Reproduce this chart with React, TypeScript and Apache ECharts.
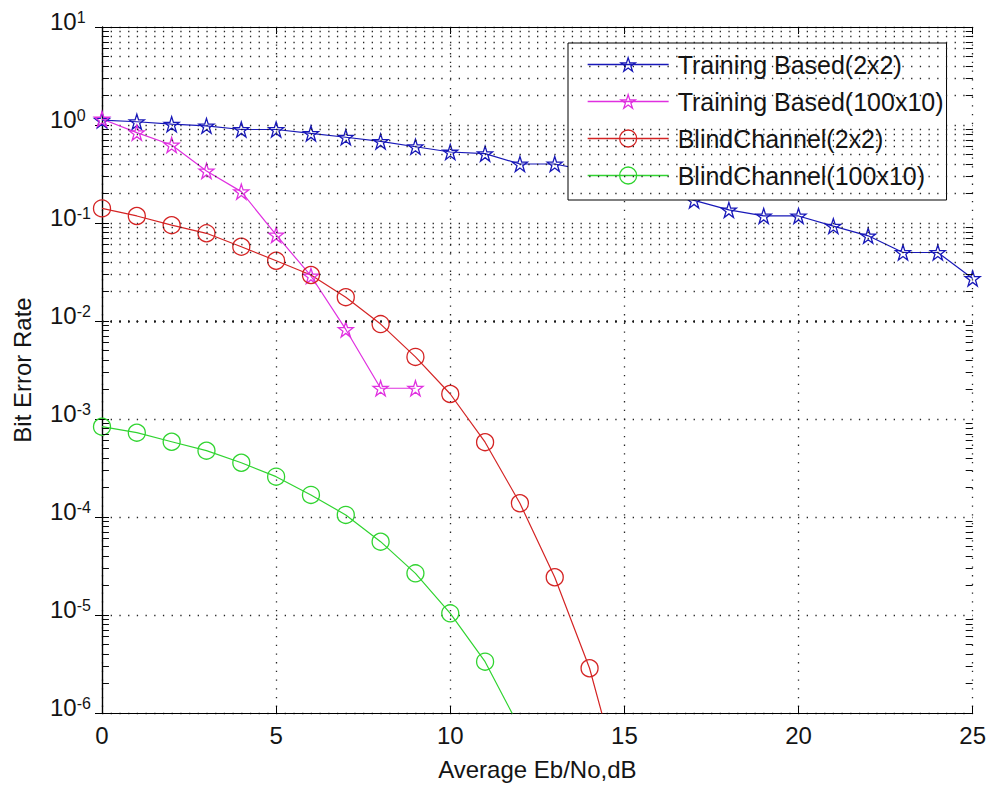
import React, { useEffect, useRef } from "react";
import * as echarts from "echarts";

// ---- data ----
const snrDb = [0, 1, 2, 3, 4, 5, 6, 7, 8, 9, 10, 11, 12, 13, 14, 15, 16, 17, 18, 19, 20, 21, 22, 23, 24, 25];

const trainingBased2x2 = [1.12, 1.08, 1.02, 0.98, 0.9, 0.9, 0.82, 0.75, 0.68, 0.6, 0.53, 0.51, 0.4, 0.4, 0.34, 0.29, 0.23, 0.17, 0.136, 0.118, 0.118, 0.093, 0.074, 0.05, 0.05, 0.0272];
const trainingBased100x10 = [1.15, 0.835, 0.625, 0.34, 0.209, 0.0755, 0.0288, 0.0082, 0.00206, 0.00206];
const blindChannel2x2 = [0.141, 0.118, 0.095, 0.0785, 0.0573, 0.0412, 0.0295, 0.0175, 0.0093, 0.0043, 0.0018, 0.00058, 0.000138, 2.43e-5, 2.86e-6, 1.42e-7];
const blindChannel100x10 = [8.35e-4, 7.25e-4, 5.86e-4, 4.75e-4, 3.58e-4, 2.58e-4, 1.68e-4, 1.05e-4, 5.6e-5, 2.66e-5, 1.04e-5, 3.34e-6, 7e-7];

const seriesNames = ["Training Based(2x2)", "Training Based(100x10)", "BlindChannel(2x2)", "BlindChannel(100x10)"];
const seriesColors = ["#1818b8", "#e030e0", "#d42424", "#30d430"];

const xMin = 0;
const xMax = 25;
const xStep = 5;
const yMin = 1e-6;
const yMax = 10;
const decadeExponents = [-6, -5, -4, -3, -2, -1, 0];
const minorMultipliers = [2, 3, 4, 5, 6, 7, 8, 9];

const FONT = "Liberation Sans, Arial, sans-serif";
const TEXT = "#141414";
const STAR_PTS = [[50, 0], [61.2, 34.5], [97.6, 34.5], [68.2, 55.9], [79.4, 90.5], [50, 69.1], [20.6, 90.5], [31.8, 55.9], [2.4, 34.5], [38.8, 34.5]];
const STAR = "path://M" + STAR_PTS.map((p) => p.join(",")).join(" L") + " Z";
const HOLLOW = "rgba(255,255,255,0)";

// legend icons: horizontal line with the marker in its middle (810 x 170 box)
const LEG_STAR =
  "path://M0,85 L810,85 M" +
  STAR_PTS.map((p) => `${(405 + (p[0] - 50) * 1.5).toFixed(1)},${(85 + (p[1] - 45.25) * 1.5).toFixed(1)}`).join(" L") +
  " Z";
const LEG_CIRCLE = "path://M0,85 L810,85 M490,85 A85,85 0 1,1 320,85 A85,85 0 1,1 490,85 Z";

export default function App() {
  const ref = useRef<HTMLDivElement>(null);

  useEffect(() => {
    if (!ref.current) return;
    const chart = echarts.init(ref.current, undefined, { renderer: "svg" });

    const minorValues: number[] = [];
    decadeExponents.forEach((e) => minorMultipliers.forEach((m) => minorValues.push(m * Math.pow(10, e))));

    const dotted = { color: "#1a1a1a", width: 1.3, type: [1.3, 7.4] as any, opacity: 0.95 };
    const tickLen = 0.2;

    const gridLines: any[] = minorValues.map((v) => ({ yAxis: v, lineStyle: dotted }));
    minorValues.forEach((v) => {
      gridLines.push([{ coord: [xMin, v], lineStyle: { color: "#000", width: 1, type: "solid" } }, { coord: [xMin + tickLen, v] }]);
      gridLines.push([{ coord: [xMax - tickLen, v], lineStyle: { color: "#000", width: 1, type: "solid" } }, { coord: [xMax, v] }]);
    });

    const dataSets = [trainingBased2x2, trainingBased100x10, blindChannel2x2, blindChannel100x10];
    const symbols = [STAR, STAR, "circle", "circle"];
    const legendIcons = [LEG_STAR, LEG_STAR, LEG_CIRCLE, LEG_CIRCLE];
    const sizes = [15, 15, 17, 17];

    const dataSeries = dataSets.map((arr, i) => ({
      name: seriesNames[i],
      type: "line",
      z: 3,
      data: arr.map((v, k) => [snrDb[k], v]),
      symbol: symbols[i],
      symbolSize: sizes[i],
      showAllSymbol: true,
      clip: true,
      lineStyle: { color: seriesColors[i], width: 1.2 },
      itemStyle: { color: HOLLOW, borderColor: seriesColors[i], borderWidth: 1.3 },
      emphasis: { disabled: true },
    }));

    const axisLine = { show: true, lineStyle: { color: "#000", width: 1.2 } };
    const tick = { show: true, inside: true, length: 7, lineStyle: { color: "#000", width: 1 } };

    chart.setOption({
      animation: false,
      backgroundColor: "#fff",
      grid: { left: 102, right: 14, top: 27, bottom: 74 },
      legend: {
        data: seriesNames.map((n, i) => ({
          name: n,
          icon: legendIcons[i],
          itemStyle: { color: HOLLOW, borderColor: seriesColors[i], borderWidth: 1.3 },
        })),
        orient: "vertical",
        left: 568,
        top: 43,
        padding: [9, 3, 12, 19],
        itemGap: 12,
        itemWidth: 81,
        itemHeight: 17,
        backgroundColor: "#fff",
        borderColor: "#000",
        borderWidth: 1,
        borderRadius: 0,
        textStyle: { fontSize: 25, fontFamily: FONT, color: TEXT, padding: [0, 0, 0, 4] },
        selectedMode: false,
      },
      xAxis: [
        {
          type: "value",
          min: xMin,
          max: xMax,
          interval: xStep,
          name: "Average Eb/No,dB",
          nameLocation: "middle",
          nameGap: 44,
          nameTextStyle: { fontSize: 24, fontFamily: FONT, color: TEXT },
          axisLine,
          axisTick: tick,
          axisLabel: { fontSize: 24, fontFamily: FONT, color: TEXT, margin: 10 },
          splitLine: { show: true, lineStyle: dotted },
        },
        {
          type: "value",
          position: "top",
          min: xMin,
          max: xMax,
          interval: xStep,
          axisLine,
          axisTick: tick,
          axisLabel: { show: false },
          splitLine: { show: false },
        },
      ],
      yAxis: [
        {
          type: "log",
          logBase: 10,
          min: yMin,
          max: yMax,
          splitNumber: 7,
          name: "Bit Error Rate",
          nameLocation: "middle",
          nameGap: 68,
          nameTextStyle: { fontSize: 24, fontFamily: FONT, color: TEXT },
          axisLine,
          axisTick: tick,
          axisLabel: {
            align: "left",
            margin: 52,
            padding: [0, 0, 12, 0],
            formatter: (v: number) => `{b|10}{s|${Math.round(Math.log10(v))}}`,
            rich: {
              b: { fontSize: 24, fontFamily: FONT, color: TEXT, lineHeight: 24, padding: [8, 0, 0, 0], verticalAlign: "bottom" },
              s: { fontSize: 16, fontFamily: FONT, color: TEXT, lineHeight: 16, verticalAlign: "top" },
            },
          },
          splitLine: { show: true, lineStyle: dotted },
        },
        {
          type: "log",
          logBase: 10,
          position: "right",
          min: yMin,
          max: yMax,
          splitNumber: 7,
          axisLine,
          axisTick: tick,
          axisLabel: { show: false },
          splitLine: { show: false },
        },
      ],
      series: [
        {
          name: "grid",
          type: "line",
          z: 1,
          data: [],
          silent: true,
          markLine: {
            silent: true,
            symbol: ["none", "none"],
            label: { show: false },
            animation: false,
            lineStyle: dotted,
            emphasis: { disabled: true },
            data: gridLines,
          },
        },
        ...dataSeries,
      ],
    });

    return () => chart.dispose();
  }, []);

  return <div ref={ref} style={{ position: "fixed", left: 0, top: 0, width: 989, height: 787 }} />;
}
